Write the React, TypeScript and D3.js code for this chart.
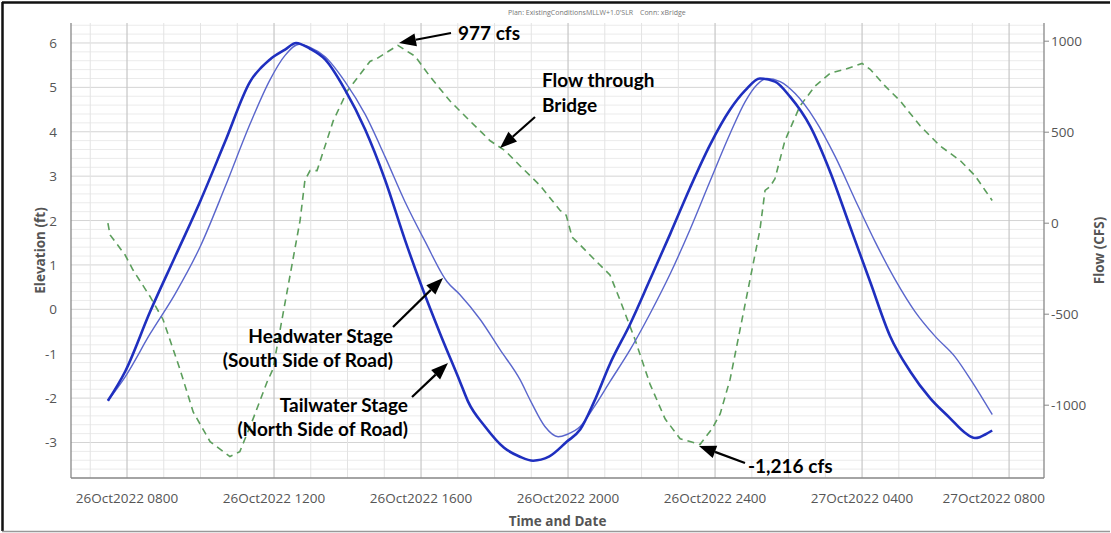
import React from 'react';
import * as d3 from 'd3';

const W = 1111;
const H = 533;
const plot = { left: 71, right: 1044, top: 23, bottom: 478 };

// time in hours since 26Oct2022 0000
const timeDomain: [number, number] = [6.476, 32.95];
const elevDomain: [number, number] = [-3.8, 6.45];
const flowDomain: [number, number] = [-1400, 1100];

const xTickHours = [8, 12, 16, 20, 24, 28, 32];
const xTickLabels = [
  '26Oct2022 0800',
  '26Oct2022 1200',
  '26Oct2022 1600',
  '26Oct2022 2000',
  '26Oct2022 2400',
  '27Oct2022 0400',
  '27Oct2022 0800',
];
const elevTicks = [-3, -2, -1, 0, 1, 2, 3, 4, 5, 6];
const flowTicks = [-1000, -500, 0, 500, 1000];

// Tailwater Stage (North Side of Road)
const tailTimes = [
  7.48, 7.95, 8.63, 9.31, 9.99, 10.67, 11.35, 11.89, 12.3, 12.6, 12.98, 13.39, 13.93,
  14.48, 15.02, 15.56, 15.97, 16.52, 17.06, 17.28, 17.74, 18.26, 18.69, 19.05, 19.48,
  19.97, 20.33, 20.71, 21.14, 21.69, 22.23, 22.78, 23.32, 23.86, 24.41, 24.82, 25.22,
  25.63, 26.04, 26.59, 27.13, 27.67, 28.22, 28.76, 29.31, 29.85, 30.39, 30.8, 31.07,
  31.2, 31.35, 31.54,
];
const tailElev = [
  -2.06, -1.4, -0.05, 1.19, 2.43, 3.78, 5.13, 5.63, 5.85, 6.0, 5.87, 5.63, 4.95,
  4.05, 2.92, 1.57, 0.62, -0.55, -1.63, -2.08, -2.64, -3.12, -3.32, -3.41, -3.32,
  -2.98, -2.71, -2.08, -1.23, -0.33, 0.67, 1.7, 2.74, 3.7, 4.5, 4.93, 5.2,
  5.13, 4.79, 4.12, 3.1, 1.87, 0.62, -0.6, -1.4, -2.0, -2.45, -2.78, -2.9,
  -2.88, -2.82, -2.73,
];

// Headwater Stage (South Side of Road)
const headTimes = [
  7.48, 7.95, 8.63, 9.31, 9.99, 10.67, 11.35, 11.89, 12.3, 12.68, 12.98, 13.39, 13.93,
  14.48, 15.02, 15.56, 16.11, 16.71, 17.06, 17.61, 18.15, 18.69, 18.99, 19.37, 19.73,
  19.97, 20.33, 20.71, 21.14, 21.69, 22.23, 22.78, 23.32, 23.86, 24.41, 24.82, 25.14,
  25.41, 25.77, 26.18, 26.72, 27.27, 27.81, 28.35, 28.9, 29.44, 29.99, 30.53, 30.99,
  31.54,
];
const headElev = [
  -2.06, -1.52, -0.55, 0.35, 1.41, 2.76, 4.18, 5.17, 5.72, 5.97, 5.9, 5.69, 5.13,
  4.39, 3.44, 2.43, 1.53, 0.62, 0.33, -0.23, -0.91, -1.58, -2.08, -2.64, -2.87,
  -2.82, -2.64, -2.2, -1.63, -0.91, -0.1, 0.8, 1.8, 2.88, 3.96, 4.68, 5.06,
  5.2, 5.13, 4.86, 4.27, 3.44, 2.47, 1.53, 0.67, -0.05, -0.61, -1.07, -1.63,
  -2.37,
];

// Flow through Bridge (cfs)
const flowTimes = [
  7.48, 7.54, 7.95, 8.16, 8.63, 8.98, 9.44, 9.8, 10.26, 10.8, 11.07, 11.43, 11.81,
  11.97, 12.71, 12.84, 12.98, 13.17, 13.61, 13.99, 14.61, 14.8, 15.37, 15.84, 16.24,
  16.79, 17.33, 17.88, 18.29, 18.69, 19.24, 19.78, 19.95, 20.11, 20.33, 20.73, 21.14,
  21.41, 21.82, 22.23, 22.64, 23.05, 23.59, 23.92, 24.14, 24.41, 24.68, 24.95, 25.22,
  25.36, 25.5, 25.63, 25.9, 26.31, 26.72, 27.13, 27.54, 28.0, 28.22, 28.63, 29.04,
  29.58, 30.12, 30.67, 31.07, 31.35, 31.54,
];
const flowCfs = [
  0, -65, -175, -256, -404, -529, -802, -1037, -1200, -1282, -1255, -1075, -873,
  -802, 16, 235, 289, 289, 562, 725, 889, 905, 977, 917, 807,
  671, 562, 453, 398, 316, 207, 71, 44, -76, -120, -202, -284,
  -420, -638, -884, -1075, -1184, -1216, -1129, -1047, -857, -584, -311, -38,
  180, 202, 245, 453, 644, 753, 824, 846, 878, 846, 753, 671,
  535, 425, 344, 262, 180, 125,
];

const annFont = 'Lato, "Open Sans", sans-serif';
const axFont = '"Open Sans", "Noto Sans", sans-serif';

function Arrow({ x1, y1, x2, y2 }: { x1: number; y1: number; x2: number; y2: number }) {
  const ang = Math.atan2(y2 - y1, x2 - x1);
  const len = 17;
  const half = 6.5;
  const bx = x2 - len * Math.cos(ang);
  const by = y2 - len * Math.sin(ang);
  const px = -Math.sin(ang) * half;
  const py = Math.cos(ang) * half;
  return (
    <g>
      <line x1={x1} y1={y1} x2={bx} y2={by} stroke="#000" strokeWidth={2.2} />
      <polygon points={`${x2},${y2} ${bx + px},${by + py} ${bx - px},${by - py}`} fill="#000" />
    </g>
  );
}

export default function App() {
  const x = d3.scaleLinear().domain(timeDomain).range([plot.left, plot.right]);
  const yL = d3.scaleLinear().domain(elevDomain).range([plot.bottom, plot.top]);
  const yR = d3.scaleLinear().domain(flowDomain).range([plot.bottom, plot.top]);

  const stageLine = d3
    .line<[number, number]>()
    .x((d) => x(d[0]))
    .y((d) => yL(d[1]))
    .curve(d3.curveMonotoneX);
  const flowLine = d3
    .line<[number, number]>()
    .x((d) => x(d[0]))
    .y((d) => yR(d[1]))
    .curve(d3.curveLinear);

  const tail = tailTimes.map((t, i) => [t, tailElev[i]] as [number, number]);
  const head = headTimes.map((t, i) => [t, headElev[i]] as [number, number]);
  const flow = flowTimes.map((t, i) => [t, flowCfs[i]] as [number, number]);

  const minorHours = d3.range(7, 33, 1).filter((h) => !xTickHours.includes(h));
  const minorElev = d3
    .range(-3.8, 6.45, 0.2)
    .map((v) => Math.round(v * 10) / 10)
    .filter((v) => !elevTicks.includes(v));

  return (
    <svg
      width={W}
      height={H}
      style={{ position: 'absolute', left: 0, top: 0, background: '#fff' }}
    >
      <rect x={0} y={0} width={W} height={H} fill="#fff" />
      {/* frame */}
      <line x1={2.5} y1={2} x2={2.5} y2={531} stroke="#111" strokeWidth={2.5} />
      <line x1={2} y1={2.5} x2={1110} y2={2.5} stroke="#111" strokeWidth={2.5} />
      <line x1={2} y1={531.5} x2={1110} y2={531.5} stroke="#999" strokeWidth={1.5} />

      {/* title */}
      <text x={508} y={15} fontSize={7} fill="#777" fontFamily={axFont}>
        Plan: ExistingConditionsMLLW+1.0'SLR
      </text>
      <text x={640} y={15} fontSize={7} fill="#777" fontFamily={axFont}>
        Conn: xBridge
      </text>

      {/* grid */}
      <g>
        {minorElev.map((v) => (
          <line key={'me' + v} x1={plot.left} x2={plot.right} y1={yL(v)} y2={yL(v)} stroke="#ebebeb" strokeWidth={1} />
        ))}
        {elevTicks.map((v) => (
          <line key={'Me' + v} x1={plot.left} x2={plot.right} y1={yL(v)} y2={yL(v)} stroke="#d4d4d4" strokeWidth={1} />
        ))}
        {minorHours.map((h) => (
          <line key={'mh' + h} x1={x(h)} x2={x(h)} y1={plot.top} y2={plot.bottom} stroke="#e3e3e3" strokeWidth={1} />
        ))}
        {xTickHours.map((h) => (
          <line key={'Mh' + h} x1={x(h)} x2={x(h)} y1={plot.top} y2={plot.bottom} stroke="#c6c6c6" strokeWidth={1.2} />
        ))}
      </g>

      {/* axes */}
      <line x1={plot.left} x2={plot.left} y1={plot.top} y2={plot.bottom} stroke="#888" strokeWidth={1.3} />
      <line x1={plot.right} x2={plot.right} y1={plot.top} y2={plot.bottom} stroke="#888" strokeWidth={1.3} />
      <line x1={plot.left} x2={plot.right} y1={plot.bottom} y2={plot.bottom} stroke="#888" strokeWidth={1.3} />

      {elevTicks.map((v) => (
        <text key={'lt' + v} x={57} y={yL(v) + 5} fontSize={13.5} fill="#555" textAnchor="end" fontFamily={axFont}>
          {v}
        </text>
      ))}
      {flowTicks.map((v) => (
        <g key={'rt' + v}>
          <line x1={plot.right} x2={plot.right + 5} y1={yR(v)} y2={yR(v)} stroke="#888" />
          <text x={1051} y={yR(v) + 5} fontSize={13.5} fill="#555" textAnchor="start" fontFamily={axFont}>
            {v}
          </text>
        </g>
      ))}
      {xTickHours.map((h, i) => {
        const last = i === xTickHours.length - 1;
        return (
          <text
            key={'xt' + h}
            x={last ? plot.right + 1 : x(h)}
            y={503}
            fontSize={13.5}
            fill="#555"
            textAnchor={last ? 'end' : 'middle'}
            fontFamily={axFont}
          >
            {xTickLabels[i]}
          </text>
        );
      })}

      {/* axis titles */}
      <text
        transform={`translate(45, ${(plot.top + plot.bottom) / 2}) rotate(-90)`}
        fontSize={13.5}
        fontWeight={700}
        fill="#555"
        textAnchor="middle"
        fontFamily={axFont}
      >
        Elevation (ft)
      </text>
      <text
        transform={`translate(1104, ${(plot.top + plot.bottom) / 2}) rotate(-90)`}
        fontSize={13.5}
        fontWeight={700}
        fill="#555"
        textAnchor="middle"
        fontFamily={axFont}
      >
        Flow (CFS)
      </text>
      <text x={(plot.left + plot.right) / 2} y={526} fontSize={13.5} fontWeight={700} fill="#555" textAnchor="middle" fontFamily={axFont}>
        Time and Date
      </text>

      {/* series */}
      <path d={flowLine(flow) || ''} fill="none" stroke="#5c9e5c" strokeWidth={1.6} strokeDasharray="7,5" />
      <path d={stageLine(head) || ''} fill="none" stroke="#5a66cc" strokeWidth={1.4} />
      <path d={stageLine(tail) || ''} fill="none" stroke="#1f2fbf" strokeWidth={2.6} />

      {/* annotations */}
      <Arrow x1={451} y1={33} x2={399} y2={43} />
      <text x={458} y={40} fontSize={19} fontWeight={700} fill="#000" fontFamily={annFont}>977 cfs</text>

      <Arrow x1={535} y1={117} x2={500} y2={148} />
      <text x={542} y={87} fontSize={19} fontWeight={700} fill="#000" fontFamily={annFont}>Flow through</text>
      <text x={542} y={112} fontSize={19} fontWeight={700} fill="#000" fontFamily={annFont}>Bridge</text>

      <Arrow x1={393} y1={327} x2={443} y2={278} />
      <text x={393} y={343} fontSize={19} fontWeight={700} fill="#000" textAnchor="end" fontFamily={annFont}>Headwater Stage</text>
      <text x={393} y={367} fontSize={19} fontWeight={700} fill="#000" textAnchor="end" fontFamily={annFont}>(South Side of Road)</text>

      <Arrow x1={412} y1={397} x2={448} y2={363} />
      <text x={408} y={412} fontSize={19} fontWeight={700} fill="#000" textAnchor="end" fontFamily={annFont}>Tailwater Stage</text>
      <text x={408} y={436} fontSize={19} fontWeight={700} fill="#000" textAnchor="end" fontFamily={annFont}>(North Side of Road)</text>

      <Arrow x1={745} y1={463} x2={699} y2={446} />
      <text x={748} y={473} fontSize={19} fontWeight={700} fill="#000" fontFamily={annFont}>-1,216 cfs</text>
    </svg>
  );
}
